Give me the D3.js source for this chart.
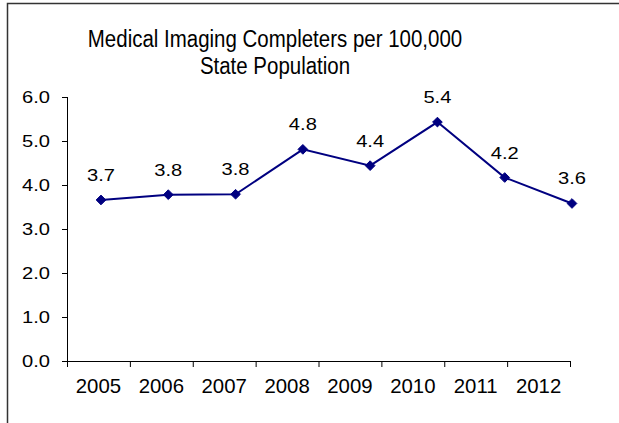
<!DOCTYPE html>
<html>
<head>
<meta charset="utf-8">
<script src="https://cdn.jsdelivr.net/npm/d3@7"></script>
<style>
  html, body { margin: 0; padding: 0; background: #fff; }
  svg text { font-family: "Liberation Sans", Arial, sans-serif; fill: #000; }
</style>
</head>
<body>
<div id="chart"></div>
<script>
const years = ["2005", "2006", "2007", "2008", "2009", "2010", "2011", "2012"];
const values = [3.66, 3.78, 3.79, 4.81, 4.44, 5.43, 4.17, 3.58];
const yTicks = [0, 1, 2, 3, 4, 5, 6];
const titleLines = ["Medical Imaging Completers per 100,000", "State Population"];

const W = 619, H = 423;
const plot = { left: 67, right: 570, top: 97, bottom: 361 };

const svg = d3.select("#chart").append("svg")
  .attr("width", W)
  .attr("height", H);

// frame (only top and left edges fall inside the picture)
svg.append("path")
  .attr("d", `M7.5,${H} L7.5,3.5 L${W},3.5`)
  .attr("fill", "none")
  .attr("stroke", "#333")
  .attr("stroke-width", 1.5);

// stretch or squeeze text horizontally like the source
function widen(sel, k) {
  sel.each(function () {
    const w = this.getComputedTextLength();
    d3.select(this)
      .attr("textLength", w * k)
      .attr("lengthAdjust", "spacingAndGlyphs");
  });
}

// title
svg.selectAll(".title")
  .data(titleLines)
  .join("text")
  .attr("class", "title")
  .attr("text-anchor", "middle")
  .attr("x", 275)
  .attr("y", (d, i) => 47 + i * 27)
  .style("font-size", "23px")
  .text(d => d)
  .call(widen, 0.89);

const x = d3.scaleBand().domain(years).range([plot.left, plot.right]);
// the marker row sits a little right of the category centres in the source
const xPt = d3.scalePoint().domain(years).range([101, 572]);
const y = d3.scaleLinear().domain([0, 6]).range([plot.bottom, plot.top]);

// y axis
const yAxis = svg.append("g")
  .attr("transform", `translate(${plot.left},0)`)
  .call(d3.axisLeft(y).tickValues(yTicks).tickFormat(d3.format(".1f")).tickSize(5).tickPadding(0));
yAxis.select(".domain").attr("stroke", "#000").attr("d", `M0.5,${plot.top}V${plot.bottom}`);
yAxis.selectAll(".tick line").attr("stroke", "#000");
yAxis.selectAll(".tick text")
  .attr("x", -17)
  .attr("dy", "0.36em")
  .style("font-size", "16.5px")
  .call(widen, 1.22);

// x axis
const xAxis = svg.append("g")
  .attr("transform", `translate(0,${plot.bottom})`)
  .call(d3.axisBottom(x).tickSize(0).tickPadding(0));
xAxis.select(".domain").attr("stroke", "#000").attr("d", `M${plot.left},0.5H${plot.right}`);
xAxis.selectAll(".tick text")
  .attr("y", 31.5)
  .attr("dy", 0)
  .style("font-size", "21px")
  .call(widen, 0.97);
const bounds = years.map(d => x(d)).concat([plot.right]);
xAxis.selectAll(".bound")
  .data(bounds)
  .join("line")
  .attr("class", "bound")
  .attr("x1", d => d + 0.5).attr("x2", d => d + 0.5)
  .attr("y1", 0).attr("y2", 6)
  .attr("stroke", "#000");

// series line
const line = d3.line()
  .x((d, i) => xPt(years[i]))
  .y(d => y(d));

svg.append("path")
  .datum(values)
  .attr("d", line)
  .attr("fill", "none")
  .attr("stroke", "#000080")
  .attr("stroke-width", 2);

svg.selectAll(".marker")
  .data(values)
  .join("path")
  .attr("class", "marker")
  .attr("d", d3.symbol().type(d3.symbolDiamond2).size(60))
  .attr("transform", (d, i) => `translate(${xPt(years[i])},${y(d)})`)
  .attr("fill", "#000080")
  .attr("stroke", "#000080");

svg.selectAll(".val")
  .data(values)
  .join("text")
  .attr("class", "val")
  .attr("text-anchor", "middle")
  .attr("x", (d, i) => xPt(years[i]))
  .attr("y", d => y(d) - 19)
  .style("font-size", "16.5px")
  .text(d => d3.format(".1f")(d))
  .call(widen, 1.22);
</script>
</body>
</html>
